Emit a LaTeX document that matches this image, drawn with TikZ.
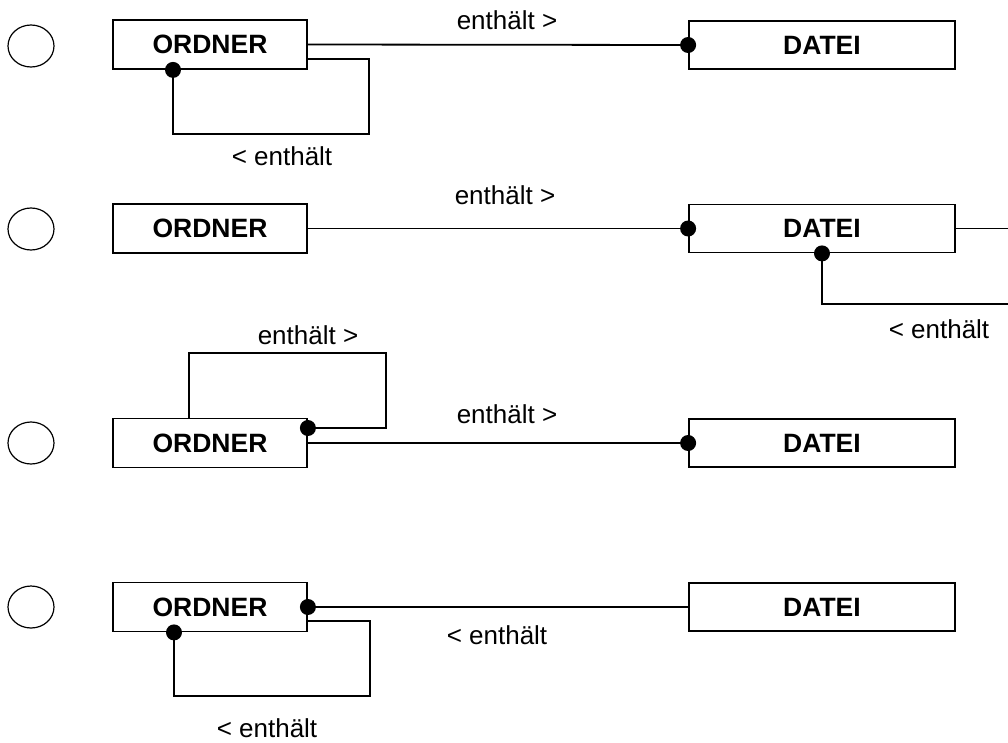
\documentclass[tikz,border=0pt]{standalone}
\usepackage{fontspec}
\setmainfont{Liberation Sans}
\usetikzlibrary{shapes.geometric}
\begin{document}
\begin{tikzpicture}[x=1pt,y=-1pt,
  line width=1.8pt,
  entity/.style={draw,rectangle,inner sep=0pt,font=\fontsize{26.5}{30}\selectfont\bfseries},
  ordner/.style={entity,minimum width=194pt,minimum height=49pt},
  datei/.style={entity,minimum width=266pt,minimum height=48pt},
  lbl/.style={inner sep=0pt,anchor=base,font=\fontsize{26}{30}\selectfont},
  choice/.style={draw,ellipse,minimum width=46pt,minimum height=42pt,inner sep=0pt,line width=1.2pt},
  dotc/.style={fill,circle,inner sep=0pt,minimum size=16pt}]
\useasboundingbox (0,0) rectangle (1008,742);

% ---------- row 1
\node[choice] (c1) at (31,46) {};
\node[ordner] (o1) at (210,44.5) {ORDNER};
\node[datei]  (d1) at (822,45) {DATEI};
\draw (o1.east) -- (d1.west);
\node[dotc] at (d1.west) {};
\node[lbl] (t1a) at (507,29) {enthält >};
\coordinate (k1) at (369,134);
\draw ([xshift=-37pt]o1.south) |- (k1) |- ([yshift=-14.5pt]o1.east);
\node[dotc] at ([xshift=-37pt]o1.south) {};
\node[lbl] (t1b) at (282,165) {< enthält};

% ---------- row 2
\node[choice] (c2) at (31,229) {};
\node[ordner] (o2) at (210,228.5) {ORDNER};
\node[datei]  (d2) at (822,228.5) {DATEI};
\draw (o2.east) -- (d2.west);
\node[dotc] at (d2.west) {};
\node[lbl] (t2a) at (505,204) {enthält >};
\coordinate (e2a) at (1010,228.5);
\draw (d2.east) -- (e2a);
\coordinate (k2) at (1010,304);
\draw (d2.south) |- (k2);
\node[dotc] at (d2.south) {};
\node[lbl] (t2b) at (939,338) {< enthält};

% ---------- row 3
\node[choice] (c3) at (31,443) {};
\node[ordner] (o3) at (210,443) {ORDNER};
\node[datei]  (d3) at (822,443) {DATEI};
\draw (o3.east) -- (d3.west);
\node[dotc] at (d3.west) {};
\node[lbl] (t3b) at (507,423) {enthält >};
\coordinate (k3a) at (189,353);
\coordinate (k3b) at (386,353);
\draw ([xshift=-21pt]o3.north) -- (k3a) -- (k3b) |- ([yshift=15pt]o3.east);
\node[dotc] at ([yshift=15pt]o3.east) {};
\node[lbl] (t3a) at (308,344) {enthält >};

% ---------- row 4
\node[choice] (c4) at (31,607) {};
\node[ordner] (o4) at (210,607) {ORDNER};
\node[datei]  (d4) at (822,607) {DATEI};
\draw (o4.east) -- (d4.west);
\node[dotc] at (o4.east) {};
\node[lbl] (t4a) at (497,644) {< enthält};
\coordinate (k4) at (370,696);
\draw ([xshift=-36pt]o4.south) |- (k4) |- ([yshift=-14pt]o4.east);
\node[dotc] at ([xshift=-36pt]o4.south) {};
\node[lbl] (t4b) at (267,737) {< enthält};
\end{tikzpicture}
\end{document}
